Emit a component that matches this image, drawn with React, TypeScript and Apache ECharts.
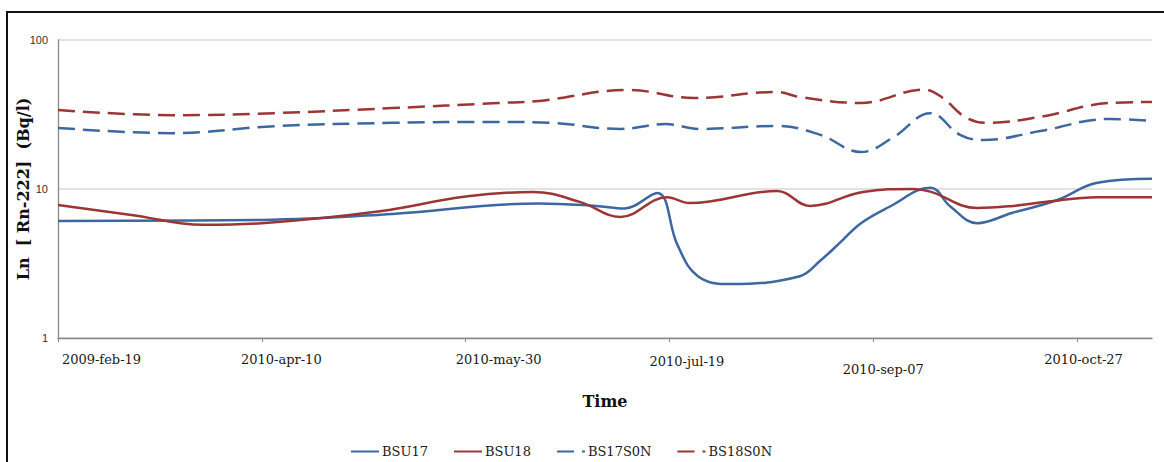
import React, { useEffect, useRef } from "react";
import * as echarts from "echarts";

// x values: days since the first label; labels every 50 days
const xTickLabels = ["2009-feb-19", "2010-apr-10", "2010-may-30", "2010-jul-19", "2010-sep-07", "2010-oct-27"];
const xTickDays = [0, 50, 100, 150, 200, 250];
const xMaxDay = 268.4;

const bsu17Days = [0, 50, 82, 118, 132, 139, 147, 152, 157, 165, 182, 187, 192, 197, 204, 214, 219, 225.5, 234, 245, 255, 268.4];
const bsu17Vals = [6.1, 6.2, 6.8, 8.0, 7.7, 7.4, 9.4, 4.2, 2.6, 2.3, 2.6, 3.3, 4.4, 5.9, 7.6, 10.2, 7.6, 5.9, 6.9, 8.4, 11.0, 11.7];

const bsu18Days = [0, 18, 35.6, 50, 79, 100, 116.5, 128, 138, 149.4, 155, 176.4, 184.5, 197.5, 209.8, 214, 225.5, 234.3, 242.6, 255, 268.4];
const bsu18Vals = [7.8, 6.7, 5.75, 5.9, 7.1, 8.9, 9.55, 8.2, 6.5, 8.8, 8.05, 9.7, 7.7, 9.55, 10.0, 9.6, 7.45, 7.7, 8.2, 8.8, 8.8];

const bs17Days = [0, 28, 53, 82, 108, 121, 138, 149, 157.5, 176.4, 187, 197, 205, 214, 221.3, 227, 241, 258, 268.4];
const bs17Vals = [25.7, 23.7, 26.4, 27.8, 28.2, 27.8, 25.3, 27.3, 25.3, 26.5, 23.1, 17.7, 22.3, 32.3, 23.1, 21.3, 24.5, 29.5, 28.7];

const bs18Days = [0, 28, 53, 82, 108, 118, 140, 156, 176.4, 182, 197, 212.5, 217, 222.5, 228, 241, 258, 268.4];
const bs18Vals = [33.9, 31.3, 32.3, 34.9, 37.8, 39, 46.2, 40.8, 44.8, 41.4, 37.8, 46.5, 41, 30.5, 27.8, 30.5, 37.8, 38.4];

const seriesNames = ["BSU17", "BSU18", "BS17S0N", "BS18S0N"];

const BLUE = "#3c67a1";
const RED = "#9b3634";

const labelOffsets = [
  [0, 87],
  [0, 39],
  [0, 66],
  [2, 35],
  [10, 20],
  [-4, 13],
];

function zip(a: number[], b: number[]) {
  return a.map((d, i) => [d, b[i]]);
}

export default function App() {
  const ref = useRef<HTMLDivElement>(null);
  useEffect(() => {
    if (!ref.current) return;
    const chart = echarts.init(ref.current, undefined, { renderer: "svg" });
    const rich: Record<string, any> = {};
    labelOffsets.forEach((o, i) => {
      rich["l" + i] = {
        fontFamily: "DejaVu Serif",
        fontSize: 13,
        color: "#1a1a1a",
        padding: [Math.max(o[0], 0), 0, Math.max(-o[0], 0), o[1]],
      };
    });
    const mk = (name: string, data: number[][], color: string, dashed: boolean) => ({
      name,
      type: "line",
      data,
      smooth: 0.4,
      symbol: "none",
      showSymbol: false,
      lineStyle: { color, width: 2.5, type: dashed ? [17, 8] : "solid" },
      itemStyle: { color },
    });
    chart.setOption({
      animation: false,
      backgroundColor: "#ffffff",
      grid: { left: 58, top: 40, right: 12, bottom: 124 },
      graphic: [
        {
          type: "rect",
          shape: { x: 7, y: 12, width: 1220, height: 520 },
          style: { fill: "none", stroke: "#111", lineWidth: 2 },
          silent: true,
        },
      ],
      legend: {
        left: 345,
        top: 440,
        itemWidth: 28,
        itemHeight: 14,
        itemGap: 25,
        data: seriesNames,
        itemStyle: { opacity: 0 },
        textStyle: { fontFamily: "DejaVu Serif", fontSize: 13, color: "#1a1a1a", padding: [0, 0, 0, -2] },
      },
      xAxis: {
        type: "value",
        min: 0,
        max: xMaxDay,
        interval: 50,
        name: "Time",
        nameLocation: "middle",
        nameGap: 55,
        nameTextStyle: { fontFamily: "DejaVu Serif", fontWeight: "bold", fontSize: 16, color: "#111" },
        axisLine: { show: true, lineStyle: { color: "#888", width: 1.3 } },
        axisTick: { show: true, length: 4, customValues: xTickDays, lineStyle: { color: "#888" } },
        splitLine: { show: false },
        axisLabel: {
          customValues: xTickDays,
          margin: 15,
          formatter: (v: number) => {
            const i = xTickDays.indexOf(Math.round(v));
            return i >= 0 ? `{l${i}|${xTickLabels[i]}}` : "";
          },
          rich,
        },
      },
      yAxis: {
        type: "log",
        logBase: 10,
        min: 1,
        max: 100,
        name: "Ln  [ Rn-222]  (Bq/l)",
        nameLocation: "middle",
        nameGap: 27,
        nameMoveOverlap: false,
        nameTextStyle: { fontFamily: "DejaVu Serif", fontWeight: "bold", fontSize: 16, color: "#111" },
        axisLine: { show: true, lineStyle: { color: "#888", width: 1.3 } },
        axisTick: { show: false },
        splitLine: { show: true, lineStyle: { color: "#d9d9d9", width: 1.5 } },
        axisLabel: {
          fontFamily: "Liberation Sans",
          fontSize: 11,
          color: "#333333",
          margin: 10,
        },
      },
      series: [
        mk("BSU17", zip(bsu17Days, bsu17Vals), BLUE, false),
        mk("BSU18", zip(bsu18Days, bsu18Vals), RED, false),
        mk("BS17S0N", zip(bs17Days, bs17Vals), BLUE, true),
        mk("BS18S0N", zip(bs18Days, bs18Vals), RED, true),
      ],
    });
    return () => chart.dispose();
  }, []);
  return (
    <div
      ref={ref}
      style={{ position: "fixed", left: 0, top: 0, width: 1164, height: 462, background: "#fff" }}
    />
  );
}
